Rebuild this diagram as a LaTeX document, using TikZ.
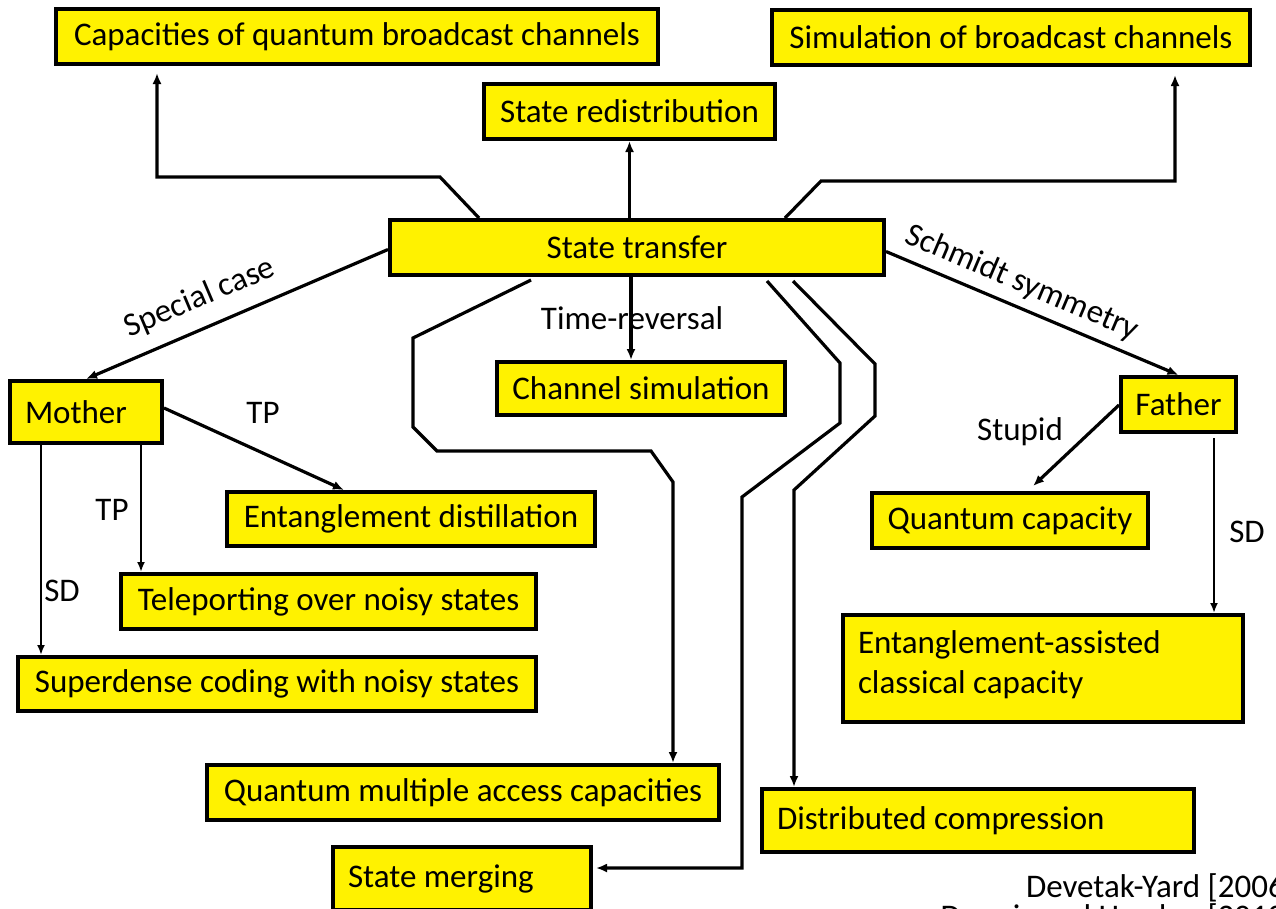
\documentclass[tikz,border=0pt]{standalone}
\usepackage{fontspec}
\setmainfont{Carlito}
\usetikzlibrary{arrows.meta}
\begin{document}
\begin{tikzpicture}[x=1pt,y=-1pt,
 box/.style={draw=black, line width=4pt, fill=yellow, inner sep=0pt, font=\fontsize{33}{40}\selectfont},
 lbox/.style={box, align=flush left, inner xsep=15pt},
 conn/.style={line width=3.2pt, -{Latex[length=11pt,width=9pt]}},
 thinconn/.style={line width=2.5pt, -{Latex[length=10pt,width=8pt]}},
 lab/.style={font=\fontsize{33}{40}\selectfont, inner sep=0pt}]
\useasboundingbox (0,0) rectangle (1276,908);
\fill[white] (0,0) rectangle (1276,908);

% boxes
\node[box, minimum width=602pt, minimum height=55pt] (cap) at (357,36.5) {Capacities of quantum broadcast channels};
\node[box, minimum width=478pt, minimum height=55pt] (sim) at (1011,37.5) {Simulation of broadcast channels};
\node[box, minimum width=291pt, minimum height=55pt] (redist) at (629.5,111.5) {State redistribution};
\node[box, minimum width=494pt, minimum height=55pt] (st) at (637,247.5) {State transfer};
\node[box, minimum width=288pt, minimum height=53pt] (chsim) at (641,388.5) {Channel simulation};
\node[lbox, text width=122pt, minimum height=62pt] (mother) at (86,412) {Mother};
\node[box, minimum width=115pt, minimum height=55pt] (father) at (1178.5,404.5) {Father};
\node[box, minimum width=368pt, minimum height=54pt] (ed) at (411,519) {Entanglement distillation};
\node[box, minimum width=276pt, minimum height=55pt] (qc) at (1010,520.5) {Quantum capacity};
\node[box, minimum width=415pt, minimum height=55pt] (tele) at (328.5,601.5) {Teleporting over noisy states};
\node[box, minimum width=518pt, minimum height=54pt] (sdc) at (277,684) {Superdense coding with noisy states};
\node[lbox, text width=370pt, minimum height=107pt] (ea) at (1043,668.5) {Entanglement-assisted\\classical capacity\vspace{8pt}};
\node[box, minimum width=512pt, minimum height=55pt] (qma) at (463,792.5) {Quantum multiple access capacities};
\node[lbox, text width=402pt, minimum height=63pt] (dc) at (978,820.5) {Distributed compression};
\node[lbox, text width=228pt, minimum height=63pt] (sm) at (462,878.5) {State merging};

% labels
\node[lab, rotate=23] (lsc) at (200,298) {Special case};
\node[lab, rotate=-23] (lss) at (1022,283) {Schmidt symmetry};
\node[lab] (ltr) at (632,318) {Time-reversal};
\node[lab] (ltp1) at (263,413) {TP};
\node[lab] (ltp2) at (112,510) {TP};
\node[lab] (lsd1) at (62,591) {SD};
\node[lab] (lstu) at (1020,432) {Stupid};
\node[lab] (lsd2) at (1247,532) {SD};
\node[lab, anchor=base east] (ref1) at (1295,897) {Devetak-Yard [2006]};
\node[lab, anchor=base east] (ref2) at (1295,927) {Dupuis and Hayden [2010]};

% connector end points
\coordinate (capin) at ([xshift=103pt,yshift=-7pt]cap.south west);
\coordinate (simin) at ([xshift=-77pt,yshift=-8pt]sim.south east);
\coordinate (chin) at ([xshift=-10pt]chsim.north);
\coordinate (qmain) at ([xshift=-48pt]qma.north east);
\coordinate (smin) at ([xshift=3pt,yshift=10.5pt]sm.east);
\coordinate (dcin) at ([xshift=34pt]dc.north west);
\coordinate (telein) at ([xshift=22pt]tele.north west);
\coordinate (sdcin) at ([xshift=25pt]sdc.north west);
\coordinate (qcin) at ([xshift=163pt,yshift=5pt]qc.north west);
\coordinate (eain) at ([xshift=-31pt]ea.north east);

% connectors from State transfer
\draw[conn] ([xshift=91pt]st.north west) -- (440,177) -- (capin |- 0,177) -- (capin);
\draw[conn] ([xshift=-101pt]st.north east) -- (821,181) -- (simin |- 0,181) -- (simin);
\draw[conn] (st.north -| redist.south) -- (redist.south);
\draw[conn] ([yshift=-2pt]st.west) -- (mother.north);
\draw[conn] (chin |- st.south) -- (chin);
\draw[conn] ([yshift=-4pt]st.east) -- (father.north);
\draw[conn] ([xshift=143pt,yshift=-3pt]st.south west) -- (413,338) -- (413,427) -- (437,451) -- (651,451) -- (qmain |- 0,482) -- (qmain);
\draw[conn] ([xshift=-119pt,yshift=-4pt]st.south east) -- (840,363) -- (840,423) -- (742,497) -- (742,868) -- (smin);
\draw[conn] ([xshift=-93pt,yshift=-4pt]st.south east) -- (875,364) -- (875,416) -- (dcin |- 0,490) -- (dcin);

% Mother
\draw[conn] ([yshift=4pt]mother.east) -- ([xshift=119pt]ed.north west);
\draw[thinconn] (telein |- mother.south) -- (telein);
\draw[thinconn] (sdcin |- mother.south) -- (sdcin);

% Father
\draw[conn] ([yshift=-0.5pt]father.west) -- (qcin);
\draw[thinconn, shorten <=4pt] (eain |- father.south) -- (eain);
\end{tikzpicture}
\end{document}
